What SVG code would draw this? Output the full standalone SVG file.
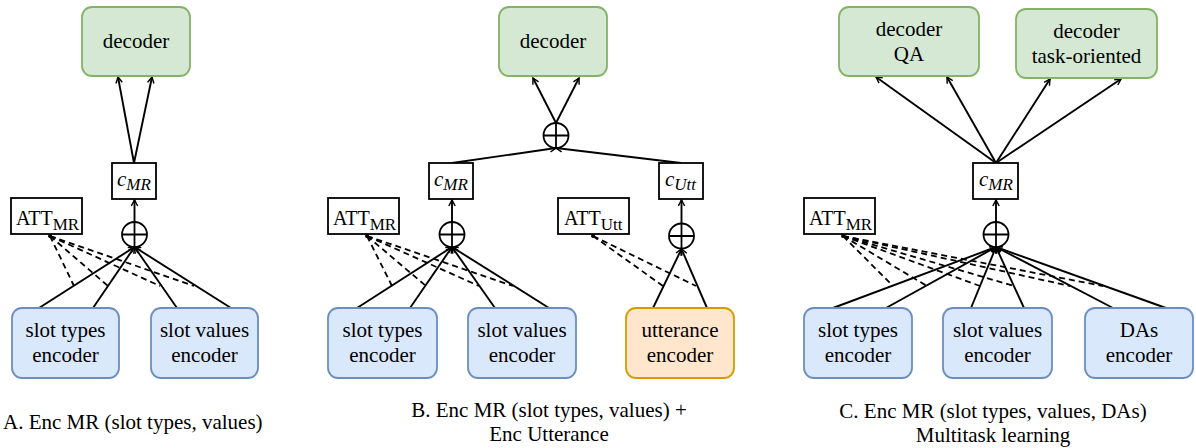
<svg xmlns="http://www.w3.org/2000/svg" width="1196" height="448" viewBox="0 0 1196 448">
<style>
text{font-family:"Liberation Serif","Times New Roman",serif;fill:#000}
.lbl{font-size:21px;text-anchor:middle}
.dec{fill:#d5e8d4;stroke:#82b366;stroke-width:1.8}
.enc{fill:#dae8fc;stroke:#6c8ebf;stroke-width:1.8}
.utt{fill:#ffe6cc;stroke:#d79b00;stroke-width:1.8}
.box{fill:#fff;stroke:#000;stroke-width:1.8}
.sum{fill:#fff;stroke:#000;stroke-width:1.8}
.e{fill:none;stroke:#000;stroke-width:1.9;marker-end:url(#ar)}
.d{fill:none;stroke:#000;stroke-width:1.8;stroke-dasharray:6 4}
.it{font-style:italic}
.cap{font-size:21px;text-anchor:middle}
</style>
<defs>
<marker id="ar" viewBox="0 0 10 10" refX="9" refY="5" markerWidth="8" markerHeight="8" orient="auto" markerUnits="userSpaceOnUse">
<path d="M1.5,1 L9,5 L1.5,9" fill="none" stroke="#000" stroke-width="1.8"/>
</marker>
</defs>

<g id="connectors">
<!-- Panel A -->
<path class="e" d="M134,163 L118,77"/>
<path class="e" d="M134,163 L152,77"/>
<path class="e" d="M134.5,222 L134.5,200"/>
<path class="e" d="M39,308 L134.5,247"/>
<path class="e" d="M93,308 L134.5,247"/>
<path class="e" d="M177,308 L134.5,247"/>
<path class="e" d="M231,308 L134.5,247"/>
<path class="d" d="M50,236 L74,286"/>
<path class="d" d="M50,236 L108,286"/>
<path class="d" d="M50,236 L160,286"/>
<path class="d" d="M50,236 L194,286"/>
<circle cx="50" cy="236" r="2"/>
<!-- Panel B -->
<path class="e" d="M556,123 L533,78"/>
<path class="e" d="M556,123 L579,78"/>
<path class="e" d="M452,163 L556,148"/>
<path class="e" d="M681,163 L556,148"/>
<path class="e" d="M452,222 L452,200"/>
<path class="e" d="M681.5,223 L681.5,200"/>
<path class="e" d="M357,308 L452,247"/>
<path class="e" d="M410,308 L452,247"/>
<path class="e" d="M495,308 L452,247"/>
<path class="e" d="M549,308 L452,247"/>
<path class="e" d="M653,308 L681.5,249"/>
<path class="e" d="M707,308 L681.5,249"/>
<path class="d" d="M367,236 L392,286"/>
<path class="d" d="M367,236 L426,286"/>
<path class="d" d="M367,236 L479,286"/>
<path class="d" d="M367,236 L513,286"/>
<path class="d" d="M593,236 L663,286"/>
<path class="d" d="M593,236 L696,286"/>
<circle cx="367" cy="236" r="2"/>
<circle cx="593" cy="236" r="2"/>
<!-- Panel C -->
<path class="e" d="M996,163 L876,77"/>
<path class="e" d="M996,163 L947,77"/>
<path class="e" d="M996,163 L1050,79"/>
<path class="e" d="M996,163 L1121,79"/>
<path class="e" d="M996,222 L996,200"/>
<path class="e" d="M833,308 L996,247"/>
<path class="e" d="M886,308 L996,247"/>
<path class="e" d="M971,308 L996,247"/>
<path class="e" d="M1024,308 L996,247"/>
<path class="e" d="M1113,308 L996,247"/>
<path class="e" d="M1166,308 L996,247"/>
<path class="d" d="M843,236 L893,286"/>
<path class="d" d="M843,236 L927,286"/>
<path class="d" d="M843,236 L980,286"/>
<path class="d" d="M843,236 L1014,286"/>
<path class="d" d="M843,236 L1070,286"/>
<path class="d" d="M843,236 L1103,286"/>
<circle cx="843" cy="236" r="2"/>
</g>

<!-- Panel A nodes -->
<g id="a-decoder"><rect class="dec" x="82" y="7" width="108" height="69" rx="10"/><text class="lbl" x="136" y="48">decoder</text></g>
<g id="a-cmr"><rect class="box" x="112" y="163" width="44" height="36"/><text class="it" x="117" y="186" font-size="21">c<tspan font-size="17" dy="4">MR</tspan></text></g>
<g id="a-att"><rect class="box" x="11" y="198" width="71" height="36"/><text x="16" y="225" font-size="20">ATT<tspan font-size="17" dy="5">MR</tspan></text></g>
<g id="a-sum"><circle class="sum" cx="134.5" cy="234.5" r="12.5"/><path d="M122,234.5 H147 M134.5,222 V247" stroke="#000" stroke-width="1.8"/></g>
<g id="a-types"><rect class="enc" x="12" y="308" width="107" height="70" rx="10"/><text class="lbl" x="65.5" y="337">slot types</text><text class="lbl" x="65.5" y="362">encoder</text></g>
<g id="a-values"><rect class="enc" x="151" y="308" width="107" height="70" rx="10"/><text class="lbl" x="204.5" y="337">slot values</text><text class="lbl" x="204.5" y="362">encoder</text></g>
<text x="3" y="429" font-size="21">A. Enc MR (slot types, values)</text>

<!-- Panel B nodes -->
<g id="b-decoder"><rect class="dec" x="499" y="7" width="108" height="69" rx="10"/><text class="lbl" x="553" y="48">decoder</text></g>
<g id="b-sum-top"><circle class="sum" cx="556" cy="135.5" r="12.5"/><path d="M543.5,135.5 H568.5 M556,123 V148" stroke="#000" stroke-width="1.8"/></g>
<g id="b-cmr"><rect class="box" x="429" y="163" width="44" height="36"/><text class="it" x="434" y="186" font-size="21">c<tspan font-size="17" dy="4">MR</tspan></text></g>
<g id="b-cutt"><rect class="box" x="659" y="163" width="44" height="36"/><text class="it" x="665" y="186" font-size="21">c<tspan font-size="17" dy="4">Utt</tspan></text></g>
<g id="b-att-mr"><rect class="box" x="328" y="198" width="71" height="36"/><text x="333" y="225" font-size="20">ATT<tspan font-size="17" dy="5">MR</tspan></text></g>
<g id="b-att-utt"><rect class="box" x="558" y="198" width="71" height="36"/><text x="564" y="225" font-size="20">ATT<tspan font-size="17" dy="5">Utt</tspan></text></g>
<g id="b-sum-mr"><circle class="sum" cx="452" cy="234.5" r="12.5"/><path d="M439.5,234.5 H464.5 M452,222 V247" stroke="#000" stroke-width="1.8"/></g>
<g id="b-sum-utt"><circle class="sum" cx="681.5" cy="236" r="12.5"/><path d="M669,236 H694 M681.5,223.5 V248.5" stroke="#000" stroke-width="1.8"/></g>
<g id="b-types"><rect class="enc" x="328" y="308" width="109" height="70" rx="10"/><text class="lbl" x="382.5" y="337">slot types</text><text class="lbl" x="382.5" y="362">encoder</text></g>
<g id="b-values"><rect class="enc" x="468" y="308" width="108" height="70" rx="10"/><text class="lbl" x="522" y="337">slot values</text><text class="lbl" x="522" y="362">encoder</text></g>
<g id="b-utt"><rect class="utt" x="626" y="308" width="108" height="70" rx="10"/><text class="lbl" x="680" y="337">utterance</text><text class="lbl" x="680" y="362">encoder</text></g>
<text class="cap" x="549" y="417">B. Enc MR (slot types, values) +</text>
<text class="cap" x="549" y="441">Enc Utterance</text>

<!-- Panel C nodes -->
<g id="c-dec-qa"><rect class="dec" x="839" y="7" width="140" height="69" rx="10"/><text class="lbl" x="909" y="36">decoder</text><text class="lbl" x="909" y="61">QA</text></g>
<g id="c-dec-task"><rect class="dec" x="1016" y="9" width="141" height="69" rx="10"/><text class="lbl" x="1086.5" y="38">decoder</text><text class="lbl" x="1086.5" y="63">task-oriented</text></g>
<g id="c-cmr"><rect class="box" x="973" y="163" width="45" height="36"/><text class="it" x="979" y="186" font-size="21">c<tspan font-size="17" dy="4">MR</tspan></text></g>
<g id="c-att"><rect class="box" x="804" y="198" width="71" height="36"/><text x="809" y="225" font-size="20">ATT<tspan font-size="17" dy="5">MR</tspan></text></g>
<g id="c-sum"><circle class="sum" cx="996" cy="234.5" r="12.5"/><path d="M983.5,234.5 H1008.5 M996,222 V247" stroke="#000" stroke-width="1.8"/></g>
<g id="c-types"><rect class="enc" x="804" y="308" width="108" height="70" rx="10"/><text class="lbl" x="858" y="337">slot types</text><text class="lbl" x="858" y="362">encoder</text></g>
<g id="c-values"><rect class="enc" x="943" y="308" width="109" height="70" rx="10"/><text class="lbl" x="997.5" y="337">slot values</text><text class="lbl" x="997.5" y="362">encoder</text></g>
<g id="c-das"><rect class="enc" x="1085" y="308" width="108" height="70" rx="10"/><text class="lbl" x="1139" y="337">DAs</text><text class="lbl" x="1139" y="362">encoder</text></g>
<text class="cap" x="993" y="418">C. Enc MR (slot types, values, DAs)</text>
<text class="cap" x="993" y="442">Multitask learning</text>
</svg>
